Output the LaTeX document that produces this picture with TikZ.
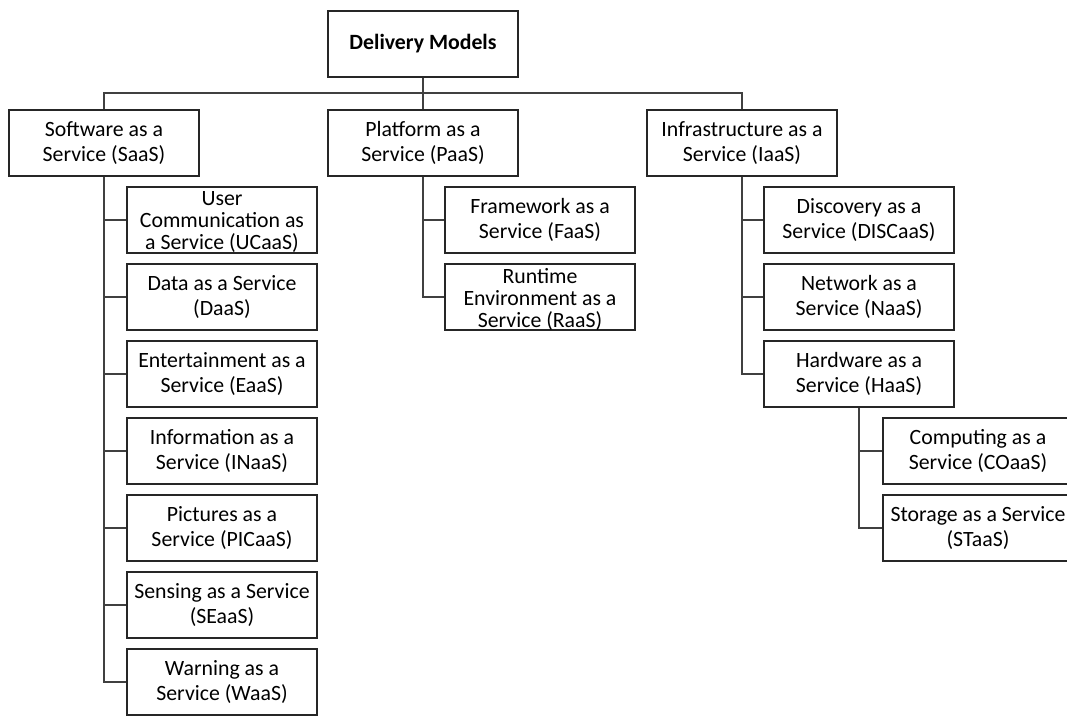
\documentclass[tikz,border=0pt]{standalone}
\usepackage{fontspec}
\setmainfont{Carlito}
\tikzset{
  box/.style={draw=black!85, line width=1.1pt, rectangle, minimum width=190pt,
    minimum height=66pt, inner sep=0pt, align=center,
    font=\fontsize{21.8}{25.5}\selectfont},
  tallbox/.style={draw=black!85, line width=1.1pt, rectangle, minimum width=190pt,
    minimum height=66pt, inner sep=0pt},
  talltext/.style={align=center, inner sep=0pt, yshift=-2pt,
    font=\fontsize{21.8}{22}\selectfont},
  link/.style={draw=black!75, line width=1.1pt}
}
\begin{document}
\begin{tikzpicture}[x=1pt, y=-1pt]
  \clip (0,0) rectangle (1067,722);
  \useasboundingbox (0,0) rectangle (1067,722);

  % root
  \node[box, font=\fontsize{21.8}{25.5}\selectfont\bfseries] (dm) at (423,44) {Delivery Models};

  % delivery models
  \node[box] (saas) at (104,143) {Software as a\\Service (SaaS)};
  \node[box] (paas) at (423,143) {Platform as a\\Service (PaaS)};
  \node[box] (iaas) at (742,143) {Infrastructure as a\\Service (IaaS)};

  % SaaS branch
  \node[tallbox, label={[talltext]center:{User\\Communication as\\a Service (UCaaS)}}] (ucaas) at (222,220) {};
  \node[box] (daas) at (222,297) {Data as a Service\\(DaaS)};
  \node[box] (eaas) at (222,374) {Entertainment as a\\Service (EaaS)};
  \node[box] (inaas) at (222,451) {Information as a\\Service (INaaS)};
  \node[box] (picaas) at (222,528) {Pictures as a\\Service (PICaaS)};
  \node[box] (seaas) at (222,605) {Sensing as a Service\\(SEaaS)};
  \node[box] (waas) at (222,682) {Warning as a\\Service (WaaS)};

  % PaaS branch
  \node[box] (faas) at (540,220) {Framework as a\\Service (FaaS)};
  \node[tallbox, label={[talltext]center:{Runtime\\Environment as a\\Service (RaaS)}}] (raas) at (540,297) {};

  % IaaS branch
  \node[box] (discaas) at (859,220) {Discovery as a\\Service (DISCaaS)};
  \node[box] (naas) at (859,297) {Network as a\\Service (NaaS)};
  \node[box] (haas) at (859,374) {Hardware as a\\Service (HaaS)};

  % HaaS branch
  \node[box] (coaas) at (978,451) {Computing as a\\Service (COaaS)};
  \node[box] (staas) at (978,528) {Storage as a Service\\(STaaS)};

  % top-level bus
  \coordinate (bus) at (423,93);
  \draw[link] (dm.south) -- (paas.north);
  \draw[link] (saas.north) |- (bus) -| (iaas.north);

  % branch connectors
  \foreach \c in {ucaas,daas,eaas,inaas,picaas,seaas,waas}
    \draw[link] (saas.south) |- (\c.west);
  \foreach \c in {faas,raas}
    \draw[link] (paas.south) |- (\c.west);
  \foreach \c in {discaas,naas,haas}
    \draw[link] (iaas.south) |- (\c.west);
  \foreach \c in {coaas,staas}
    \draw[link] (haas.south) |- (\c.west);
\end{tikzpicture}
\end{document}
